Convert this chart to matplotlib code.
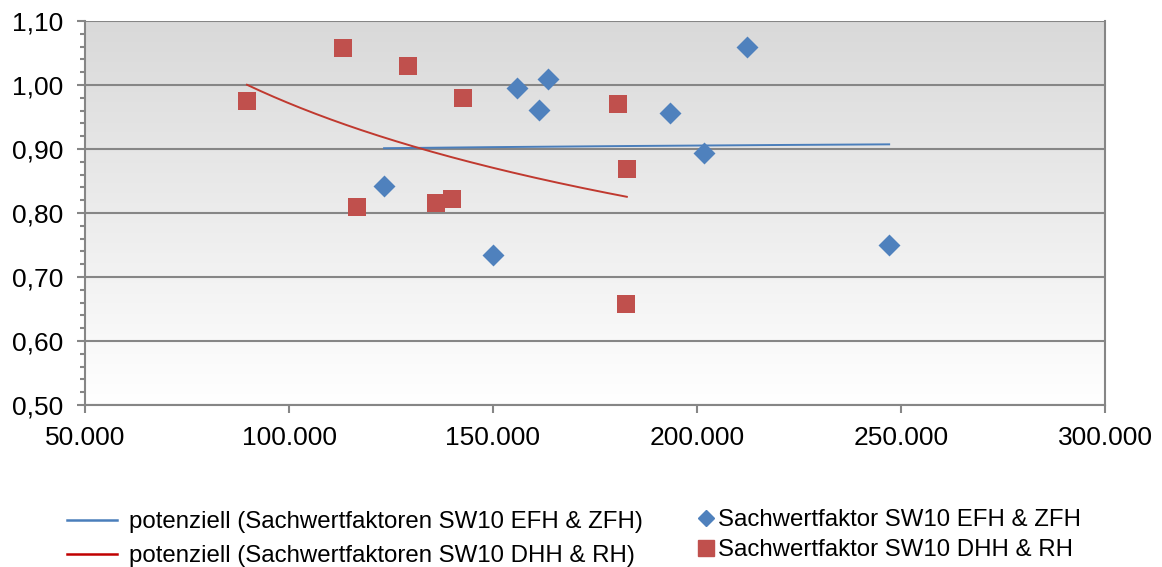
import numpy as np
import matplotlib
matplotlib.use("Agg")
import matplotlib.pyplot as plt
from matplotlib.lines import Line2D
from matplotlib.ticker import FuncFormatter, MultipleLocator
from matplotlib.colors import LinearSegmentedColormap

plt.rcParams['font.family'] = ['Liberation Sans', 'DejaVu Sans']

# EFH & ZFH (blue diamonds)
efh_x = [123300, 150000, 155900, 161300, 163500, 193400, 201700, 212300, 247100]
efh_y = [0.842, 0.734, 0.995, 0.961, 1.009, 0.956, 0.893, 1.059, 0.750]
# DHH & RH (red squares)
dhh_x = [89700, 113200, 116700, 129200, 136000, 140000, 142600, 180600, 182800, 182600]
dhh_y = [0.975, 1.058, 0.809, 1.030, 0.816, 0.822, 0.980, 0.970, 0.869, 0.658]

lbl_trend_efh = "potenziell (Sachwertfaktoren SW10 EFH & ZFH)"
lbl_trend_dhh = "potenziell (Sachwertfaktoren SW10 DHH & RH)"
lbl_efh = "Sachwertfaktor SW10 EFH & ZFH"
lbl_dhh = "Sachwertfaktor SW10 DHH & RH"

BLUE = "#4F81BD"
RED = "#C0504D"
TREND_BLUE = "#4A7EBB"
TREND_RED = "#C0392F"
GRID = "#868686"

W, H = 1162, 567
fig = plt.figure(figsize=(W / 100, H / 100), dpi=100)
ax = fig.add_axes([85 / W, 1 - 405 / H, (1105 - 85) / W, (405 - 21) / H])

# gradient background
grad = np.linspace(0, 1, 256).reshape(-1, 1)
cmap = LinearSegmentedColormap.from_list("g", ["#d9d9d9", "#ffffff"])
ax.imshow(grad, extent=[0, 1, 0, 1], transform=ax.transAxes, cmap=cmap,
          aspect='auto', zorder=0, origin='upper')

ax.set_xlim(50000, 300000)
ax.set_ylim(0.5, 1.1)


def power_fit(x, y):
    x = np.asarray(x, float)
    y = np.asarray(y, float)
    b, lna = np.polyfit(np.log(x), np.log(y), 1)
    xs = np.linspace(x.min(), x.max(), 200)
    return xs, np.exp(lna) * xs ** b

xs, ys = power_fit(efh_x, efh_y)
ax.plot(xs, ys, color=TREND_BLUE, lw=1.4, zorder=3)
xs, ys = power_fit(dhh_x, dhh_y)
ax.plot(xs, ys, color=TREND_RED, lw=1.4, zorder=3)

ax.scatter(efh_x, efh_y, marker='D', s=125, color=BLUE, zorder=4, linewidths=0)
ax.scatter(dhh_x, dhh_y, marker='s', s=150, color=RED, zorder=4, linewidths=0)

ax.yaxis.set_major_locator(MultipleLocator(0.1))
ax.yaxis.set_minor_locator(MultipleLocator(0.02))
ax.xaxis.set_major_locator(MultipleLocator(50000))
ax.yaxis.set_major_formatter(FuncFormatter(lambda v, p: f"{v:.2f}".replace('.', ',')))
ax.xaxis.set_major_formatter(FuncFormatter(lambda v, p: f"{int(round(v)):,}".replace(',', '.')))

ax.grid(axis='y', which='major', color=GRID, lw=1.5, zorder=1)
ax.set_axisbelow(True)
for s in ['left', 'bottom', 'right']:
    ax.spines[s].set_color(GRID)
    ax.spines[s].set_linewidth(1.5)
ax.spines['top'].set_visible(False)
ax.tick_params(axis='both', which='major', direction='out', length=5.8, width=1.5,
               color=GRID, labelsize=19, labelcolor='black')
ax.tick_params(axis='y', which='minor', direction='out', length=3.6, width=1.5, color=GRID)
ax.tick_params(axis='x', which='major', pad=9)
ax.tick_params(axis='y', which='major', pad=10)

h1 = [Line2D([], [], color=TREND_BLUE, lw=1.8), Line2D([], [], color="#C00000", lw=1.8)]
leg1 = fig.legend(h1, [lbl_trend_efh, lbl_trend_dhh], loc='upper left',
                  bbox_to_anchor=(67 / W, 1 - 511 / H), frameon=False, fontsize=17.3,
                  handlelength=2.1, handletextpad=0.5, labelspacing=0.52,
                  borderaxespad=0, borderpad=0)
h2 = [Line2D([], [], marker='D', ls='none', color=BLUE, markersize=8),
      Line2D([], [], marker='s', ls='none', color=RED, markersize=11)]
leg2 = fig.legend(h2, [lbl_efh, lbl_dhh], loc='upper left',
                  bbox_to_anchor=(696 / W, 1 - 509 / H), frameon=False, fontsize=17.3,
                  handlelength=0.8, handletextpad=0.13, labelspacing=0.35,
                  borderaxespad=0, borderpad=0)

fig.savefig("out.png", dpi=100)
